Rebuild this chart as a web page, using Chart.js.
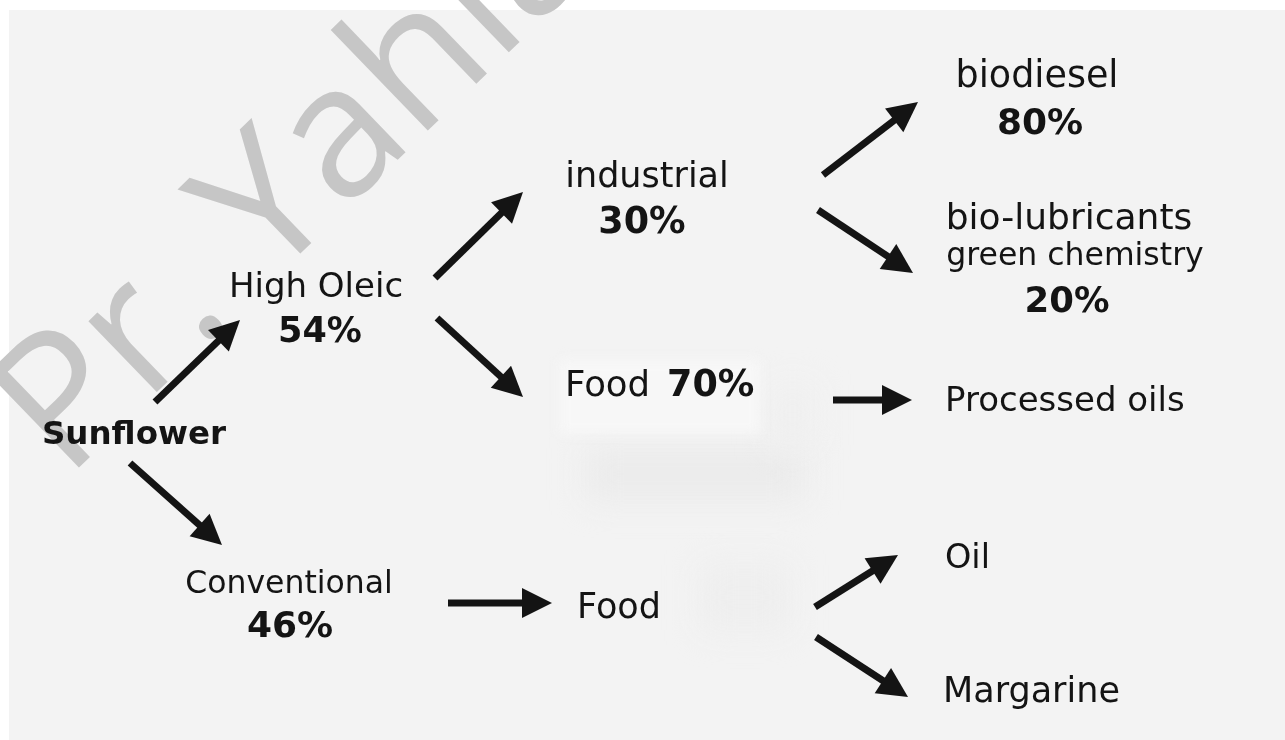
<!DOCTYPE html>
<html>
<head>
<meta charset="utf-8">
<script src="https://cdn.jsdelivr.net/npm/chart.js@4.4.1/dist/chart.umd.min.js"></script>
<style>
html,body{margin:0;padding:0;background:#fff;}
canvas{display:block;}
</style>
</head>
<body>
<canvas id="c" width="1285" height="740"></canvas>
<script>
// ---- content ----
const labelTexts = ['Sunflower','High Oleic','54%','industrial','30%','biodiesel','80%',
  'bio-lubricants','green chemistry','20%','Food','70%','Processed oils',
  'Conventional','46%','Food','Oil','Margarine'];
const labelBold = [true,false,true,false,true,false,true,false,false,true,false,true,false,false,true,false,false,false];

// arrows: tail -> tip (diagram coordinates)
const arrowTailX = [155,130,435,437,823,818,833,448,815,816];
const arrowTailY = [402,463,278,318,175,210,400,603,607,637];
const arrowTipX  = [240,222,523,523,918,913,912,552,898,908];
const arrowTipY  = [320,545,192,397,102,273,400,603,555,697];

const watermarkText = 'Pr. Yahia';

// ---- layout ----
const labelX = [134,316,320,647,642,1037,1040,1069,1075,1067,565,667,945,289,290,577,945,943];
const labelY = [444,297,342,187,233,87,134,229,265,312,396,396,411,593,637,618,568,702];
const labelSize = [32.5,34,35,35,36.5,36.5,36,36,31.5,35.5,35.5,36.5,34,31.5,36,35,33.5,35];
const labelAlign = ['center','center','center','center','center','center','center','center','center','center',
  'left','left','left','center','center','left','left','left'];

const FONT = '"DejaVu Sans", "Open Sans", sans-serif';
const WM_FONT = '"Open Sans", "Noto Sans", sans-serif';
const INK = '#141414';
const HEAD_LEN = 30, HEAD_HALF = 15, SHAFT_W = 7;

const datasets = arrowTailX.map((tx, i) => {
  const dx = arrowTipX[i] - tx, dy = arrowTipY[i] - arrowTailY[i];
  const L = Math.hypot(dx, dy);
  const ex = arrowTipX[i] - dx / L * (HEAD_LEN - 3);
  const ey = arrowTipY[i] - dy / L * (HEAD_LEN - 3);
  return {
    data: [{x: tx, y: arrowTailY[i]}, {x: ex, y: ey}],
    showLine: true, borderColor: INK, borderWidth: SHAFT_W,
    pointRadius: 0, borderCapStyle: 'butt', tip: {x: arrowTipX[i], y: arrowTipY[i]}
  };
});

const bgPlugin = {
  id: 'bg',
  beforeDraw(chart) {
    const {ctx} = chart; const sx = chart.scales.x, sy = chart.scales.y;
    ctx.save();
    ctx.fillStyle = '#ffffff';
    ctx.fillRect(0, 0, chart.width, chart.height);
    const x0 = sx.getPixelForValue(9), y0 = sy.getPixelForValue(10);
    ctx.fillStyle = '#f3f3f3';
    ctx.fillRect(x0, y0, chart.width - x0, chart.height - y0);
    // soft editing smudges
    ctx.filter = 'blur(16px)';
    ctx.fillStyle = '#ebebeb';
    ctx.fillRect(sx.getPixelForValue(585), sy.getPixelForValue(448), 220, 52);
    ctx.fillStyle = '#eeeeee';
    ctx.fillRect(sx.getPixelForValue(700), sy.getPixelForValue(565), 90, 65);
    ctx.fillStyle = '#efefef';
    ctx.fillRect(sx.getPixelForValue(770), sy.getPixelForValue(385), 45, 60);
    ctx.filter = 'blur(6px)';
    ctx.fillStyle = '#f7f7f7';
    ctx.fillRect(sx.getPixelForValue(560), sy.getPixelForValue(360), 200, 74);
    ctx.filter = 'none';
    ctx.restore();
  },
  beforeDatasetsDraw(chart) {
    // watermark "Pr. Yahia" on a slanted baseline
    const {ctx} = chart; const sx = chart.scales.x, sy = chart.scales.y;
    ctx.save();
    ctx.fillStyle = '#c6c6c6';
    ctx.translate(sx.getPixelForValue(66), sy.getPixelForValue(480));
    ctx.rotate(-44 * Math.PI / 180);
    ctx.font = `400 184px ${WM_FONT}`;
    ctx.textAlign = 'left';
    ctx.textBaseline = 'alphabetic';
    ctx.fillText(watermarkText, 0, 0);
    ctx.restore();
  },
  afterDatasetsDraw(chart) {
    const {ctx} = chart; const sx = chart.scales.x, sy = chart.scales.y;
    ctx.save();
    ctx.fillStyle = INK;
    chart.data.datasets.forEach((ds) => {
      const p0 = ds.data[0];
      const tx = sx.getPixelForValue(ds.tip.x), ty = sy.getPixelForValue(ds.tip.y);
      const ax = sx.getPixelForValue(p0.x), ay = sy.getPixelForValue(p0.y);
      const ang = Math.atan2(ty - ay, tx - ax);
      ctx.save();
      ctx.translate(tx, ty);
      ctx.rotate(ang);
      ctx.beginPath();
      ctx.moveTo(0, 0);
      ctx.lineTo(-HEAD_LEN, -HEAD_HALF);
      ctx.lineTo(-HEAD_LEN, HEAD_HALF);
      ctx.closePath();
      ctx.fill();
      ctx.restore();
    });
    // labels
    ctx.textBaseline = 'alphabetic';
    labelTexts.forEach((t, i) => {
      ctx.font = `${labelBold[i] ? 700 : 400} ${labelSize[i]}px ${FONT}`;
      ctx.textAlign = labelAlign[i];
      ctx.fillText(t, sx.getPixelForValue(labelX[i]), sy.getPixelForValue(labelY[i]));
    });
    ctx.restore();
  }
};

new Chart(document.getElementById('c'), {
  type: 'scatter',
  data: {datasets},
  options: {
    responsive: false, animation: false, devicePixelRatio: 1, events: [],
    layout: {padding: 0},
    plugins: {legend: {display: false}, tooltip: {enabled: false}},
    scales: {
      x: {type: 'linear', min: 0, max: 1285, display: false},
      y: {type: 'linear', min: 0, max: 740, reverse: true, display: false}
    }
  },
  plugins: [bgPlugin]
});
</script>
</body>
</html>
